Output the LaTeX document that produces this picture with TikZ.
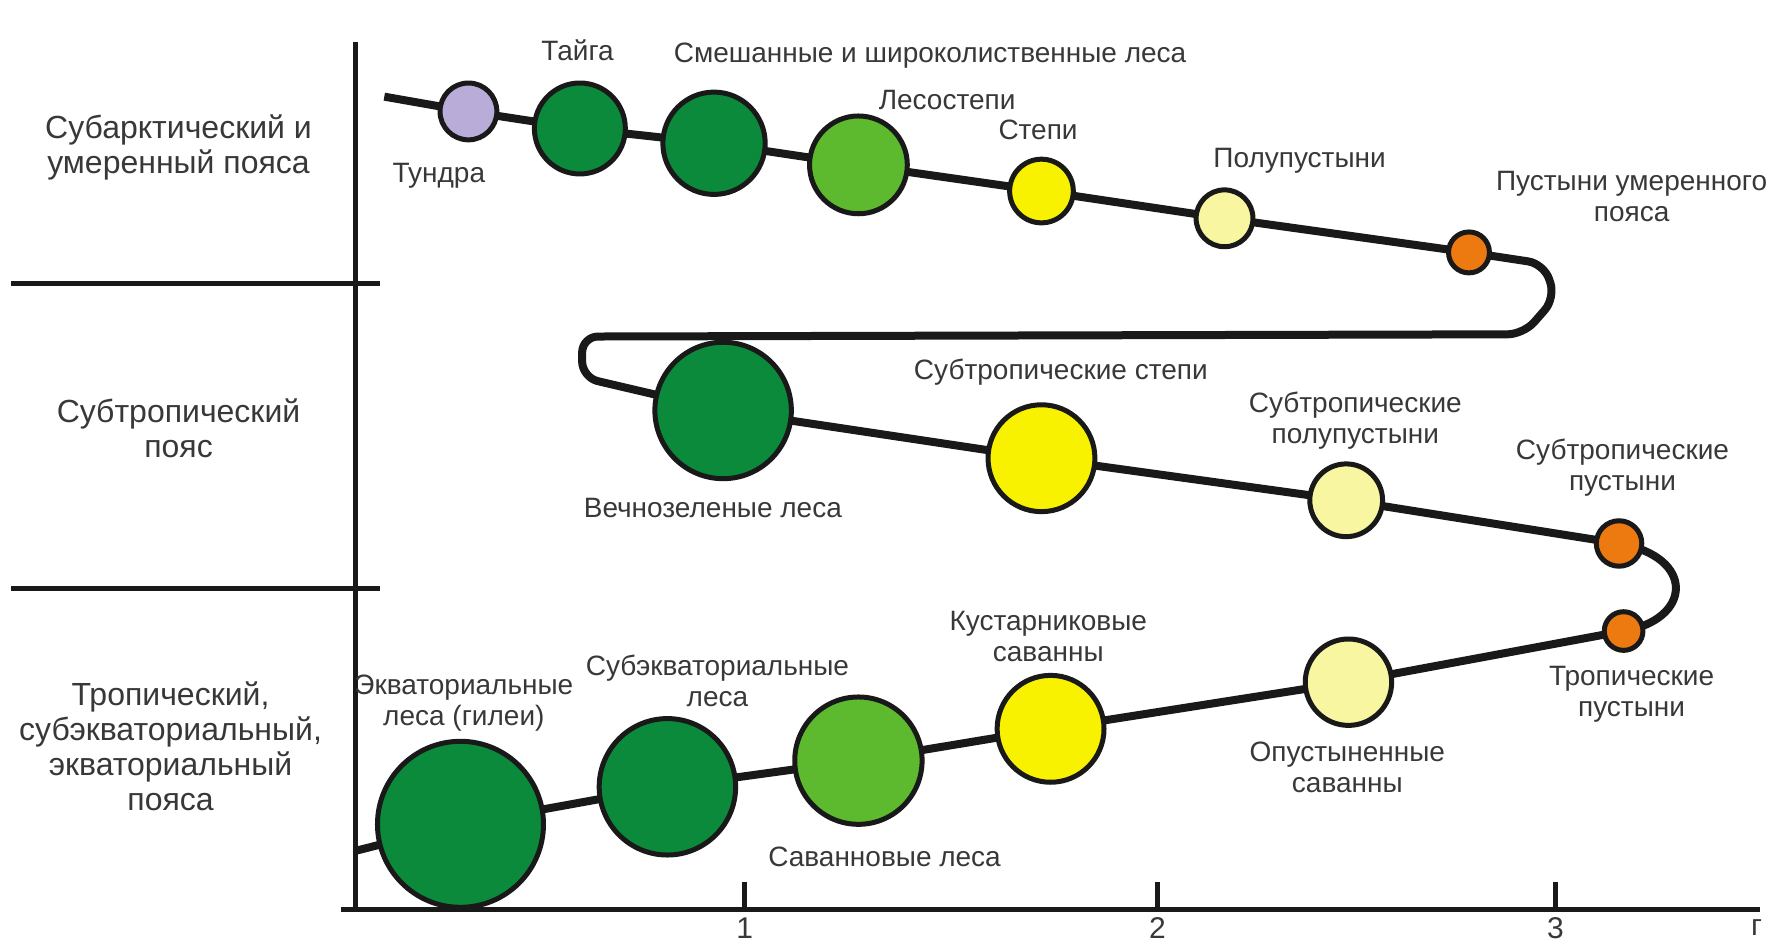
\documentclass[tikz,border=0pt]{standalone}
\usepackage{fontspec}
\setmainfont{Liberation Sans}
\usetikzlibrary{backgrounds}
\definecolor{txt}{HTML}{383838}
\definecolor{cLav}{HTML}{B9ACD9}
\definecolor{cDark}{HTML}{0B8A3C}
\definecolor{cLight}{HTML}{5DBA2E}
\definecolor{cYel}{HTML}{F8F200}
\definecolor{cPale}{HTML}{F9F6A2}
\definecolor{cOr}{HTML}{EC7A10}
\tikzset{
  biome/.style={circle, draw=black!90, line width=5pt, inner sep=0pt, minimum size={#1*1.137pt}},
  lbl/.style={text=txt, align=center, font=\fontsize{28}{31}\selectfont, inner sep=0pt},
  zone/.style={text=txt, align=center, font=\fontsize{32}{35}\selectfont, inner sep=0pt},
  numlbl/.style={text=txt, font=\fontsize{30}{32}\selectfont, inner sep=0pt},
  chain/.style={line width=8pt, black!90, line join=round},
  axis/.style={line width=5pt, black!90},
}
\begin{document}
\begin{tikzpicture}[x=1.137pt, y=-1.137pt]
\useasboundingbox (0,0) rectangle (1568.2,830.2);
% axes and separators
\coordinate (ytop) at (313,37);
\coordinate (orig) at (313,800);
\coordinate (xend) at (1548,800);
\coordinate (xbeg) at (300,800);
\draw[axis] (ytop) -- (orig);
\draw[axis] (xbeg) -- (xend);
\coordinate (s1a) at (10,249); \coordinate (s1b) at (334,249);
\coordinate (s2a) at (10,518); \coordinate (s2b) at (334,518);
\draw[axis] (s1a) -- (s1b);
\draw[axis] (s2a) -- (s2b);
\foreach \x/\n in {655/1,1018/2,1368/3}{
  \coordinate (t\n a) at (\x,800); \coordinate (t\n b) at (\x,776);
  \draw[line width=4.5pt, black!90] (t\n a) -- (t\n b);
  \node[numlbl] (tl\n) at (\x,816) {\n};
}
\node[numlbl] (rlab) at (1545,816) {г};
% zone labels
\node[zone] (z1) at (157,130) {Субарктический и\\умеренный пояса};
\node[zone] (z2) at (157,377) {Субтропический\\пояс};
\node[zone] (z3) at (150,656) {Тропический,\\субэкваториальный,\\экваториальный\\пояса};
% biome circles
\node[biome=50, fill=cLav] (tun) at (412,98) {};
\node[biome=80, fill=cDark] (tai) at (510,113) {};
\node[biome=90, fill=cDark] (mix) at (628,126) {};
\node[biome=86, fill=cLight] (les) at (755,145) {};
\node[biome=56, fill=cYel] (ste) at (916,168) {};
\node[biome=50, fill=cPale] (pol) at (1077,192) {};
\node[biome=36, fill=cOr] (pum) at (1292,222) {};
\node[biome=120, fill=cDark] (vec) at (636,361) {};
\node[biome=94, fill=cYel] (sst) at (916,403) {};
\node[biome=64, fill=cPale] (spp) at (1184,440) {};
\node[biome=40, fill=cOr] (spu) at (1424,478) {};
\node[biome=34, fill=cOr] (tpu) at (1428,555) {};
\node[biome=76, fill=cPale] (ops) at (1186,600) {};
\node[biome=94, fill=cYel] (kus) at (924,641) {};
\node[biome=112, fill=cLight] (sav) at (755,669) {};
\node[biome=120, fill=cDark] (sub) at (587,692) {};
\node[biome=146, fill=cDark] (ekv) at (405,725) {};
% chain
\coordinate (beg) at (338,85);
\coordinate (l1) at (1358,232);
\coordinate (l2) at (1368,262);
\coordinate (l3) at (1340,294);
\coordinate (l4) at (512,296);
\coordinate (l5) at (512,332);
\coordinate (fin) at (314,748);
\begin{scope}[on background layer]
\draw[chain] (beg) -- (tun.center) -- (tai.center) -- (mix.center) -- (les.center) -- (ste.center) -- (pol.center) -- (pum.center);
\draw[chain, rounded corners=16pt] (pum.center) -- (l1) -- (l2) -- (l3) -- (l4) -- (l5) -- (vec.center);
\draw[chain] (vec.center) -- (sst.center) -- (spp.center) -- (spu.center);
\draw[chain] (spu.center) .. controls (1492,490) and (1488,545) .. (tpu.center);
\draw[chain] (tpu.center) -- (ops.center) -- (kus.center) -- (sav.center) -- (sub.center) -- (ekv.center) -- (fin);
\end{scope}
% biome labels
\node[lbl] (ltun) at (386,155) {Тундра};
\node[lbl] (ltai) at (508,44) {Тайга};
\node[lbl] (lmix) at (818,49) {Смешанные и широколиственные леса};
\node[lbl] (lles) at (833,88) {Лесостепи};
\node[lbl] (lste) at (913,114) {Степи};
\node[lbl] (lpol) at (1143,141) {Полупустыни};
\node[lbl] (lpum) at (1435,173) {Пустыни умеренного\\пояса};
\node[lbl] (lsst) at (933,327) {Субтропические степи};
\node[lbl] (lspp) at (1192,370) {Субтропические\\полупустыни};
\node[lbl] (lvec) at (627,447) {Вечнозеленые леса};
\node[lbl] (lspu) at (1427,411) {Субтропические\\пустыни};
\node[lbl] (lkus) at (922,560) {Кустарниковые\\саванны};
\node[lbl] (lekv) at (408,618) {Экваториальные\\леса (гилеи)};
\node[lbl] (lsub) at (631,599) {Субэкваториальные\\леса};
\node[lbl] (lsav) at (778,754) {Саванновые леса};
\node[lbl] (lops) at (1185,675) {Опустыненные\\саванны};
\node[lbl] (ltpu) at (1435,611) {Тропические\\пустыни};
\end{tikzpicture}
\end{document}
